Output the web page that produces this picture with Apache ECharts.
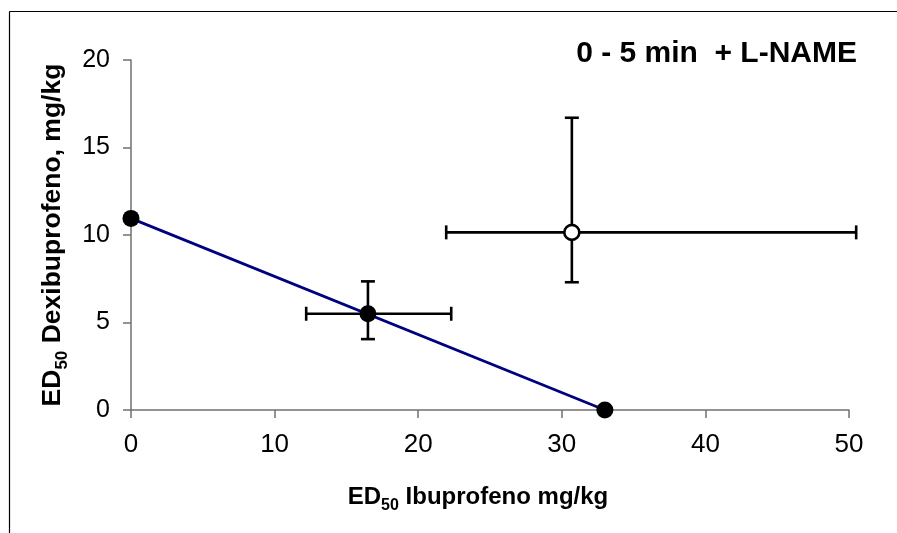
<!DOCTYPE html>
<html>
<head>
<meta charset="utf-8">
<script src="https://cdn.jsdelivr.net/npm/echarts@6/dist/echarts.min.js"></script>
<style>
html,body{margin:0;padding:0;background:#fff;}
#c{width:897px;height:533px;}
</style>
</head>
<body>
<div id="c"></div>
<script>
// Data
const xTicks = [0, 10, 20, 30, 40, 50];
const yTicks = [0, 5, 10, 15, 20];
const isoboleX = [0, 33];          // ED50 Ibuprofeno alone / Dexibuprofeno alone
const isoboleY = [10.95, 0];
const theoX = 16.5, theoY = 5.5;    // theoretical additive point
const theoXErr = [12.2, 22.3];
const theoYErr = [4.05, 7.35];
const expX = 30.7, expY = 10.15;    // experimental point
const expXErr = [21.95, 50.5];
const expYErr = [7.3, 16.7];
const titleText = '0 - 5 min  + L-NAME';

const FONT = 'Arial, "Liberation Sans", sans-serif';
const chart = echarts.init(document.getElementById('c'));

const errData = [
  [theoX, theoY, theoXErr[0], theoXErr[1], theoYErr[0], theoYErr[1]],
  [expX, expY, expXErr[0], expXErr[1], expYErr[0], expYErr[1]]
];

function renderErr(params, api) {
  const x = api.value(0), y = api.value(1);
  const xl = api.value(2), xh = api.value(3), yl = api.value(4), yh = api.value(5);
  const pL = api.coord([xl, y]), pR = api.coord([xh, y]);
  const pB = api.coord([x, yl]), pT = api.coord([x, yh]);
  const cap = 7;
  const st = {stroke: '#000', lineWidth: 2.6};
  return {
    type: 'group',
    children: [
      {type: 'line', shape: {x1: pL[0], y1: pL[1], x2: pR[0], y2: pR[1]}, style: st},
      {type: 'line', shape: {x1: pL[0], y1: pL[1] - cap, x2: pL[0], y2: pL[1] + cap}, style: st},
      {type: 'line', shape: {x1: pR[0], y1: pR[1] - cap, x2: pR[0], y2: pR[1] + cap}, style: st},
      {type: 'line', shape: {x1: pB[0], y1: pB[1], x2: pT[0], y2: pT[1]}, style: st},
      {type: 'line', shape: {x1: pB[0] - cap, y1: pB[1], x2: pB[0] + cap, y2: pB[1]}, style: st},
      {type: 'line', shape: {x1: pT[0] - cap, y1: pT[1], x2: pT[0] + cap, y2: pT[1]}, style: st}
    ]
  };
}

const axisColor = '#707070';

chart.setOption({
  animation: false,
  backgroundColor: '#fff',
  grid: {left: 131, right: 48, top: 60, bottom: 123},
  xAxis: {
    type: 'value', min: xTicks[0], max: xTicks[xTicks.length - 1], interval: 10,
    splitLine: {show: false},
    axisLine: {lineStyle: {color: axisColor, width: 1.5}},
    axisTick: {lineStyle: {color: axisColor, width: 1.5}, length: 8},
    axisLabel: {color: '#000', fontSize: 26, fontFamily: FONT, margin: 22},
    name: '{a|ED}{s|50}{a| Ibuprofeno mg/kg}',
    nameLocation: 'middle', nameGap: 70,
    nameTextStyle: {
      padding: [0, 24, 0, 0],
      rich: {
        a: {fontSize: 24, fontWeight: 'bold', fontFamily: FONT, color: '#000', lineHeight: 34, verticalAlign: 'middle'},
        s: {fontSize: 16, fontWeight: 'bold', fontFamily: FONT, color: '#000', lineHeight: 34, verticalAlign: 'bottom'}
      }
    }
  },
  yAxis: {
    type: 'value', min: yTicks[0], max: yTicks[yTicks.length - 1], interval: 5,
    splitLine: {show: false},
    axisLine: {lineStyle: {color: axisColor, width: 1.5}},
    axisTick: {lineStyle: {color: axisColor, width: 1.5}, length: 8},
    axisLabel: {color: '#000', fontSize: 25, fontFamily: FONT, margin: 21},
    name: '{a|ED}{s|50}{a| Dexibuprofeno, mg/kg}',
    nameLocation: 'middle', nameGap: 60,
    nameTextStyle: {
      rich: {
        a: {fontSize: 26.5, fontWeight: 'bold', fontFamily: FONT, color: '#000', lineHeight: 36, verticalAlign: 'middle'},
        s: {fontSize: 17, fontWeight: 'bold', fontFamily: FONT, color: '#000', lineHeight: 36, verticalAlign: 'bottom'}
      }
    }
  },
  graphic: [
    {type: 'line', shape: {x1: 9.5, y1: 11.5, x2: 1000, y2: 11.5}, style: {stroke: '#000', lineWidth: 1.2}, z: 0, silent: true},
    {type: 'line', shape: {x1: 9.5, y1: 11.5, x2: 9.5, y2: 1000}, style: {stroke: '#000', lineWidth: 1.2}, z: 0, silent: true},
    {type: 'text', x: 857, y: 54, style: {text: titleText, font: 'bold 30px ' + FONT, fill: '#000', align: 'right', verticalAlign: 'middle'}, z: 10}
  ],
  series: [
    {
      type: 'line', data: isoboleX.map((x, i) => [x, isoboleY[i]]),
      symbol: 'none', lineStyle: {color: '#000080', width: 2.7}, z: 2, clip: false
    },
    {
      type: 'custom', renderItem: renderErr, data: errData, clip: false, z: 3,
      encode: {x: [0, 2, 3], y: [1, 4, 5]}
    },
    {
      type: 'scatter', symbol: 'circle', symbolSize: 17, clip: false, z: 4,
      itemStyle: {color: '#000', opacity: 1},
      data: [[isoboleX[0], isoboleY[0]], [isoboleX[1], isoboleY[1]], [theoX, theoY]]
    },
    {
      type: 'scatter', symbol: 'circle', symbolSize: 15, clip: false, z: 5,
      itemStyle: {color: '#fff', borderColor: '#000', borderWidth: 2.6, opacity: 1},
      data: [[expX, expY]]
    }
  ]
});
</script>
</body>
</html>
